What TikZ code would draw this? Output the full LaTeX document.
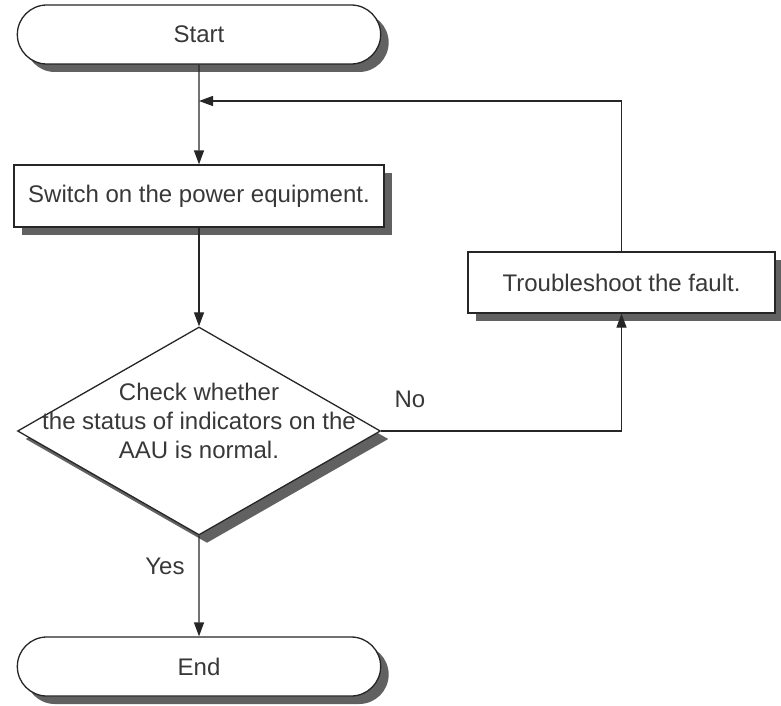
\documentclass[tikz,border=0pt]{standalone}
\usepackage{fontspec}
\setmainfont{Liberation Sans}
\usetikzlibrary{shapes.geometric,shapes.misc,shadows,arrows.meta}

\tikzset{
  boxshadow/.style={drop shadow={shadow xshift=8pt,shadow yshift=-8pt,fill=black!62,opacity=1}},
  terminal/.style={rounded rectangle,draw=black!85,line width=1.3pt,fill=white,minimum width=370pt,minimum height=59pt,boxshadow},
  process/.style={rectangle,draw=black!85,line width=1.3pt,fill=white,minimum width=370pt,minimum height=62pt,boxshadow},
  decision/.style={diamond,draw=black!85,line width=1.3pt,fill=white,inner sep=0pt,minimum width=363pt,minimum height=208pt,boxshadow},
  flow/.style={draw=black!85,line width=1.3pt,-{Triangle[length=14pt,width=10pt]}}
}

\begin{document}
\begin{tikzpicture}[x=1pt, y=-1pt, font=\fontsize{24}{29}\selectfont, text=black!78]
\useasboundingbox (0,0) rectangle (781,706);
\node[terminal] (start) at (199,34.5) {Start};
\node[process] (switch) at (199,196) {Switch on the power equipment.};
\node[decision] (check) at (199,431) {};
\node[align=center] (checktext) at (199,421) {Check whether\\the status of indicators on the\\AAU is normal.};
\node[process, minimum width=307pt, minimum height=61pt] (fault) at (621.5,282.5) {Troubleshoot the fault.};
\node[terminal] (end) at (199,666.5) {End};
\coordinate (join) at (199,101);
\draw[flow] (start) -- (switch);
\draw[flow] (switch) -- (check);
\draw[flow] (check) -- (end);
\draw[flow] (check.east) -| (fault.south);
\draw[flow] (fault.north) |- (join);
\node (no) at (410,399) {No};
\node (yes) at (165,566) {Yes};
\end{tikzpicture}
\end{document}
